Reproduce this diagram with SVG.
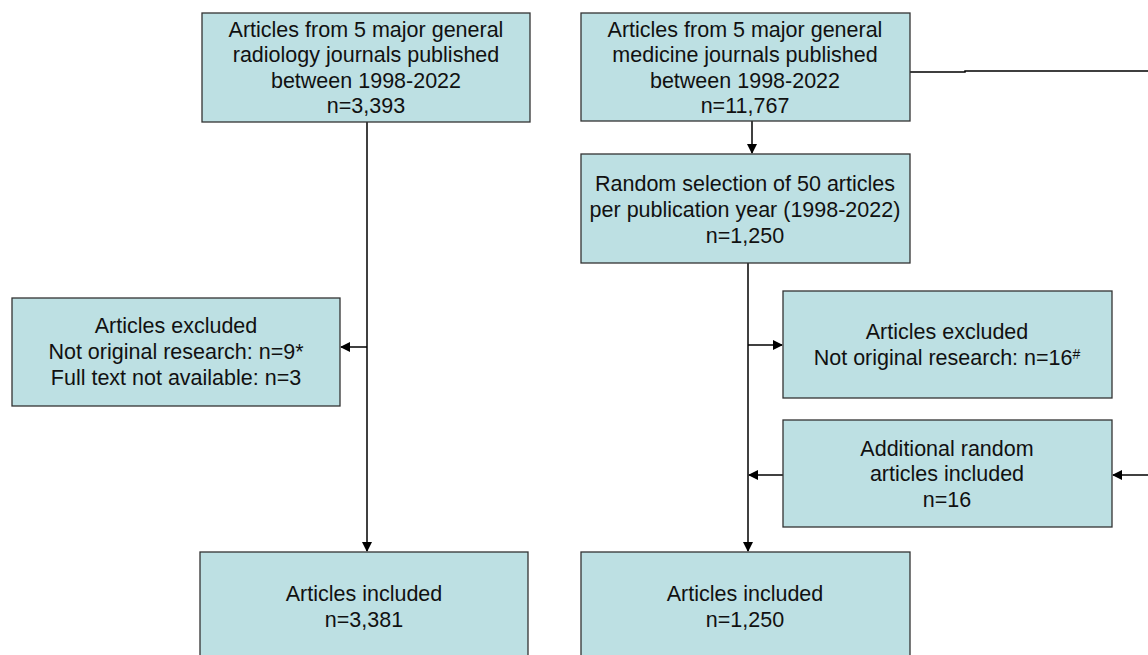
<svg xmlns="http://www.w3.org/2000/svg" width="1148" height="655" viewBox="0 0 1148 655">
<defs>
<style>
.box{fill:#bde0e3;stroke:#333;stroke-width:1.3}
.t{font-family:"Liberation Sans",Arial,sans-serif;font-size:21.5px;fill:#111;text-anchor:middle}
.c{fill:none;stroke:#000;stroke-width:1.5}
</style>
<marker id="ah" markerWidth="10" markerHeight="10" refX="9" refY="5" orient="auto" markerUnits="userSpaceOnUse">
<path d="M0,0 L10,5 L0,10 z" fill="#000"/>
</marker>
</defs>
<rect width="1148" height="655" fill="#fff"/>
<g id="connectors">
<path class="c" d="M367,122 V551" marker-end="url(#ah)"/>
<path class="c" d="M367,347 H341" marker-end="url(#ah)"/>
<path class="c" d="M752,121 V153" marker-end="url(#ah)"/>
<path class="c" d="M748,263 V551" marker-end="url(#ah)"/>
<path class="c" d="M748,345 H782" marker-end="url(#ah)"/>
<path class="c" d="M783,475 H749" marker-end="url(#ah)"/>
<path class="c" d="M910,72 H965 V71 H1148"/>
<path class="c" d="M1148,475 H1113" marker-end="url(#ah)"/>
</g>
<g id="n1">
<rect class="box" x="202" y="13" width="328" height="109"/>
<text class="t" x="366" y="37">Articles from 5 major general</text>
<text class="t" x="366" y="62">radiology journals published</text>
<text class="t" x="366" y="88">between 1998-2022</text>
<text class="t" x="366" y="113">n=3,393</text>
</g>
<g id="n2">
<rect class="box" x="581" y="13" width="329" height="108"/>
<text class="t" x="745" y="37">Articles from 5 major general</text>
<text class="t" x="745" y="62">medicine journals published</text>
<text class="t" x="745" y="88">between 1998-2022</text>
<text class="t" x="745" y="113">n=11,767</text>
</g>
<g id="n3">
<rect class="box" x="581" y="154" width="329" height="109"/>
<text class="t" x="745" y="191">Random selection of 50 articles</text>
<text class="t" x="745" y="217">per publication year (1998-2022)</text>
<text class="t" x="745" y="243">n=1,250</text>
</g>
<g id="n4">
<rect class="box" x="12" y="298" width="328" height="108"/>
<text class="t" x="176" y="333">Articles excluded</text>
<text class="t" x="176" y="359">Not original research: n=9*</text>
<text class="t" x="176" y="385">Full text not available: n=3</text>
</g>
<g id="n5">
<rect class="box" x="783" y="291" width="329" height="107"/>
<text class="t" x="947" y="339">Articles excluded</text>
<text class="t" x="947" y="365">Not original research: n=16<tspan font-size="14" dy="-6">#</tspan></text>
</g>
<g id="n6">
<rect class="box" x="783" y="420" width="329" height="107"/>
<text class="t" x="947" y="456">Additional random</text>
<text class="t" x="947" y="481">articles included</text>
<text class="t" x="947" y="507">n=16</text>
</g>
<g id="n7">
<rect class="box" x="200" y="552" width="328" height="110"/>
<text class="t" x="364" y="601">Articles included</text>
<text class="t" x="364" y="627">n=3,381</text>
</g>
<g id="n8">
<rect class="box" x="581" y="552" width="329" height="110"/>
<text class="t" x="745" y="601">Articles included</text>
<text class="t" x="745" y="627">n=1,250</text>
</g>
</svg>
